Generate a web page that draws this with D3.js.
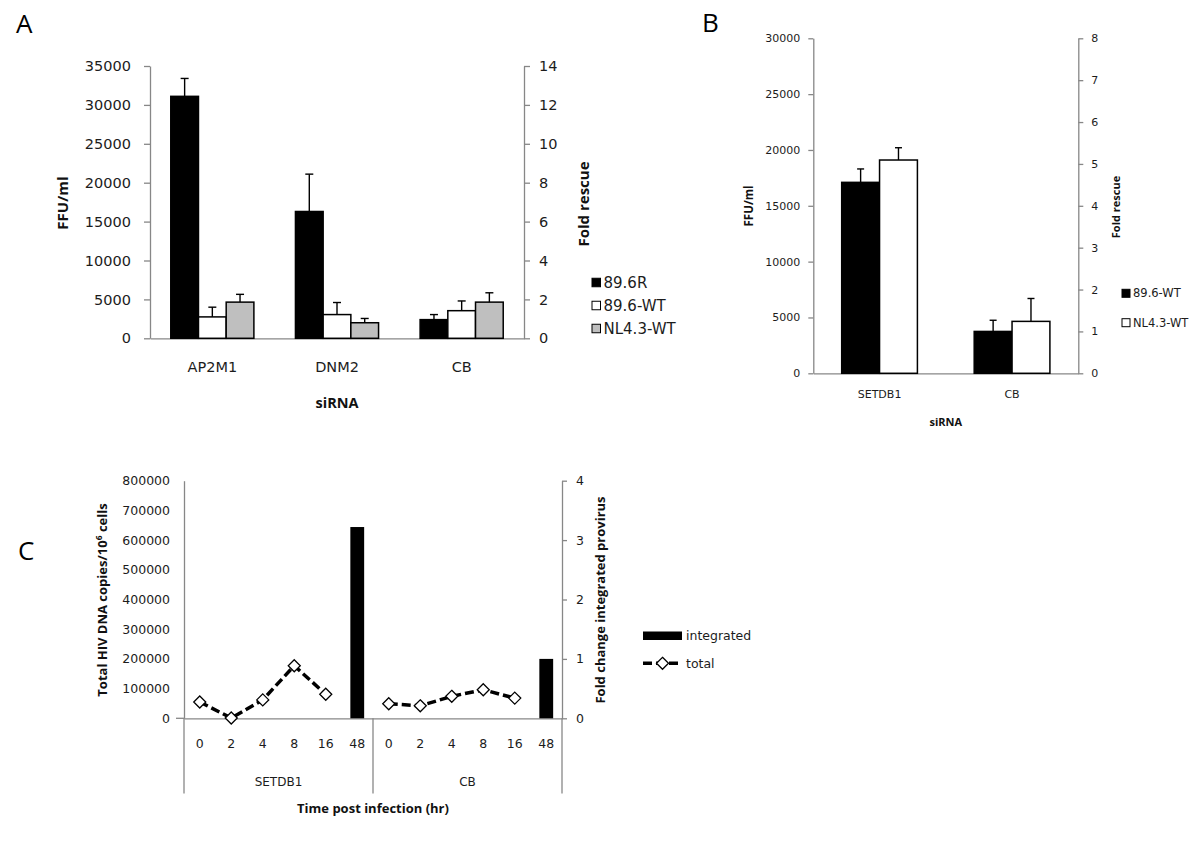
<!DOCTYPE html>
<html><head><meta charset="utf-8">
<script src="https://cdn.jsdelivr.net/npm/d3@7"></script>
<style>
body{margin:0;background:#fff;}
svg{display:block;background:#fff;}
</style></head><body>
<svg id="fig" width="1200" height="843"></svg>
<script>
// ---------- Panel A data ----------
const catsA = ["AP2M1", "DNM2", "CB"];
const seriesNamesA = ["89.6R", "89.6-WT", "NL4.3-WT"];
const valsA_896R   = [31100, 16300, 2400];
const errsA_896R   = [2300, 4800, 650];
const valsA_896WT  = [2750, 3050, 3550];
const errsA_896WT  = [1250, 1550, 1250];
const valsA_NL43WT = [4650, 2000, 4650];
const errsA_NL43WT = [1000, 550, 1200];
const leftTicksA  = [0, 5000, 10000, 15000, 20000, 25000, 30000, 35000];
const rightTicksA = [0, 2, 4, 6, 8, 10, 12, 14];

// ---------- Panel B data ----------
const catsB = ["SETDB1", "CB"];
const seriesNamesB = ["89.6-WT", "NL4.3-WT"];
const valsB_896WT  = [17100, 3750];
const errsB_896WT  = [1200, 1000];
const valsB_NL43WT = [19100, 4650];
const errsB_NL43WT = [1100, 2050];
const leftTicksB  = [0, 5000, 10000, 15000, 20000, 25000, 30000];
const rightTicksB = [0, 1, 2, 3, 4, 5, 6, 7, 8];

// ---------- Panel C data ----------
const groupsC = ["SETDB1", "CB"];
const timeLabelsC = ["0", "2", "4", "8", "16", "48"];
const totalSETDB1 = [55000, 1000, 62000, 177000, 81000, null];
const totalCB     = [49000, 42000, 74000, 96000, 68000, null];
const integratedSETDB1 = [null, null, null, null, null, 3.22];
const integratedCB     = [null, null, null, null, null, 1.0];
const leftTicksC  = [0, 100000, 200000, 300000, 400000, 500000, 600000, 700000, 800000];
const rightTicksC = [0, 1, 2, 3, 4];

// ---------- drawing ----------
const svg = d3.select("#fig");
const AX = "#878787", TXT = "#1c1c1c";
const TICKF = "DejaVu Sans", TITLEF = "Open Sans";

function styleAxis(g, fs) {
  g.attr("font-family", TICKF).attr("font-size", fs);
  g.select(".domain").attr("stroke", AX).attr("stroke-width", 1.3);
  g.selectAll(".tick line").attr("stroke", AX).attr("stroke-width", 1.3);
  g.selectAll(".tick text").attr("fill", TXT);
}
function hTitle(x, y, txt, fs, weight) {
  return svg.append("text").attr("x", x).attr("y", y).attr("text-anchor", "middle")
    .attr("dy", "0.35em").attr("font-family", TITLEF).attr("font-weight", weight || 700)
    .attr("font-size", fs).attr("fill", "#111").text(txt);
}
function vTitle(x, y, txt, fs) {
  return svg.append("text").attr("transform", `translate(${x},${y}) rotate(-90)`)
    .attr("text-anchor", "middle").attr("dy", "0.35em").attr("font-family", TITLEF)
    .attr("font-weight", 700).attr("font-size", fs).attr("fill", "#111").text(txt);
}
function letter(x, y, t) {
  svg.append("text").attr("x", x).attr("y", y).attr("font-family", TITLEF)
    .attr("font-size", 26).attr("fill", "#000").text(t);
}

function barPanel(c) {
  const g = svg.append("g");
  const x = d3.scaleBand().domain(c.cats).range([c.x0, c.x1]).padding(0);
  const n = c.series.length, bw = x.bandwidth(), barW = bw / (n + c.gap);
  const xs = d3.scaleBand().domain(c.series.map(s => s.name))
    .range([c.gap / 2 * barW, bw - c.gap / 2 * barW]).padding(0);
  const y = d3.scaleLinear().domain([0, c.leftMax]).range([c.yB, c.yT]);
  const y2 = d3.scaleLinear().domain([0, c.rightMax]).range([c.yB, c.yT]);

  const la = g.append("g").attr("transform", `translate(${c.x0},0)`)
    .call(d3.axisLeft(y).tickValues(c.leftTicks).tickSize(c.tick).tickSizeOuter(0)
      .tickPadding(c.lpad).tickFormat(d3.format("d")));
  styleAxis(la, c.fs);
  const ra = g.append("g").attr("transform", `translate(${c.x1},0)`)
    .call(d3.axisRight(y2).tickValues(c.rightTicks).tickSize(c.tick).tickSizeOuter(0)
      .tickPadding(c.rpad).tickFormat(d3.format("d")));
  styleAxis(ra, c.fs);
  const ba = g.append("g").attr("transform", `translate(0,${c.yB})`)
    .call(d3.axisBottom(x).tickSize(0).tickSizeOuter(0).tickPadding(c.bpad));
  styleAxis(ba, c.fs);

  c.series.forEach(s => {
    const data = c.cats.map((k, i) => ({ k, v: s.values[i], e: s.errs[i] }));
    const sg = g.append("g");
    sg.selectAll("rect").data(data).join("rect")
      .attr("x", d => x(d.k) + xs(s.name)).attr("width", xs.bandwidth())
      .attr("y", d => y(d.v)).attr("height", d => y(0) - y(d.v))
      .attr("fill", s.fill).attr("stroke", "#000").attr("stroke-width", 1.5);
    const cx = d => x(d.k) + xs(s.name) + xs.bandwidth() / 2;
    sg.selectAll("line.eb").data(data).join("line").attr("class", "eb")
      .attr("x1", cx).attr("x2", cx).attr("y1", d => y(d.v)).attr("y2", d => y(d.v + d.e))
      .attr("stroke", "#000").attr("stroke-width", 1.4);
    sg.selectAll("line.cap").data(data).join("line").attr("class", "cap")
      .attr("x1", d => cx(d) - c.cap).attr("x2", d => cx(d) + c.cap)
      .attr("y1", d => y(d.v + d.e)).attr("y2", d => y(d.v + d.e))
      .attr("stroke", "#000").attr("stroke-width", 1.4);
  });

  c.series.forEach((s, i) => {
    const ly = c.legY + i * c.legDy;
    g.append("rect").attr("x", c.legX).attr("y", ly - c.legS / 2).attr("width", c.legS).attr("height", c.legS)
      .attr("fill", s.fill).attr("stroke", "#000").attr("stroke-width", 1);
    g.append("text").attr("x", c.legX + c.legS + c.legGap).attr("y", ly).attr("dy", "0.35em")
      .attr("font-family", TICKF).attr("font-size", c.legFs).attr("fill", TXT).text(s.name);
  });
}

// Panel A
barPanel({
  cats: catsA, gap: 1.5,
  series: [
    { name: seriesNamesA[0], values: valsA_896R, errs: errsA_896R, fill: "#000000" },
    { name: seriesNamesA[1], values: valsA_896WT, errs: errsA_896WT, fill: "#ffffff" },
    { name: seriesNamesA[2], values: valsA_NL43WT, errs: errsA_NL43WT, fill: "#bfbfbf" }
  ],
  x0: 150, x1: 524, yB: 338.3, yT: 66, leftMax: 35000, rightMax: 14,
  leftTicks: leftTicksA, rightTicks: rightTicksA,
  tick: 6, lpad: 13, rpad: 9, bpad: 23, fs: 14.5, cap: 4,
  legX: 592, legY: 282.5, legDy: 23, legS: 8.5, legGap: 3, legFs: 15
});
letter(16, 33, "A");
vTitle(63, 203, "FFU/ml", 15);
vTitle(584, 204, "Fold rescue", 15);
hTitle(337, 403, "siRNA", 14.5);

// Panel B
barPanel({
  cats: catsB, gap: 1.5,
  series: [
    { name: seriesNamesB[0], values: valsB_896WT, errs: errsB_896WT, fill: "#000000" },
    { name: seriesNamesB[1], values: valsB_NL43WT, errs: errsB_NL43WT, fill: "#ffffff" }
  ],
  x0: 813.3, x1: 1078.3, yB: 373.3, yT: 38.3, leftMax: 30000, rightMax: 8,
  leftTicks: leftTicksB, rightTicks: rightTicksB,
  tick: 5, lpad: 8, rpad: 8, bpad: 17, fs: 11, cap: 3.5,
  legX: 1122, legY: 293.3, legDy: 29.4, legS: 8, legGap: 3, legFs: 11.5
});
letter(702, 31.5, "B");
vTitle(748.5, 206, "FFU/ml", 11.5);
vTitle(1116.5, 207, "Fold rescue", 11);
hTitle(945.8, 421.7, "siRNA", 11);

// Panel C
(function () {
  const g = svg.append("g");
  const x0 = 184, x1 = 562, yB = 718.3, yT = 480.7, yLow = 793.5;
  const cats = groupsC.flatMap(gr => timeLabelsC.map(t => gr + "|" + t));
  const x = d3.scaleBand().domain(cats).range([x0, x1]).padding(0);
  const bw = x.bandwidth(), barW = bw / 2.28;
  const y = d3.scaleLinear().domain([0, 800000]).range([yB, yT]);
  const y2 = d3.scaleLinear().domain([0, 4]).range([yB, yT]);
  const totals = totalSETDB1.concat(totalCB).map((v, i) => ({ k: cats[i], v }));
  const integ = integratedSETDB1.concat(integratedCB).map((v, i) => ({ k: cats[i], v }));

  const la = g.append("g").attr("transform", `translate(${x0},0)`)
    .call(d3.axisLeft(y).tickValues(leftTicksC).tickSize(0).tickSizeOuter(0).tickPadding(14).tickFormat(d3.format("d")));
  styleAxis(la, 12.5);
  const ra = g.append("g").attr("transform", `translate(${x1},0)`)
    .call(d3.axisRight(y2).tickValues(rightTicksC).tickSize(5).tickSizeOuter(0).tickPadding(9).tickFormat(d3.format("d")));
  styleAxis(ra, 12.5);
  const ba = g.append("g").attr("transform", `translate(0,${yB})`)
    .call(d3.axisBottom(x).tickSize(0).tickSizeOuter(0).tickPadding(21).tickFormat(d => d.split("|")[1]));
  styleAxis(ba, 12.5);
  g.append("line").attr("x1", x0 - 8).attr("x2", x0).attr("y1", yB).attr("y2", yB).attr("stroke", AX).attr("stroke-width", 1.3);
  const seps = [x0, x(groupsC[1] + "|" + timeLabelsC[0]), x1];
  g.selectAll("line.sep").data(seps).join("line").attr("class", "sep")
    .attr("x1", d => d).attr("x2", d => d).attr("y1", yB).attr("y2", yLow)
    .attr("stroke", AX).attr("stroke-width", 1.3);
  groupsC.forEach(gr => {
    const a = x(gr + "|" + timeLabelsC[0]), b = x(gr + "|" + timeLabelsC[timeLabelsC.length - 1]) + bw;
    g.append("text").attr("x", (a + b) / 2).attr("y", 782).attr("dy", "0.35em").attr("text-anchor", "middle")
      .attr("font-family", TICKF).attr("font-size", 12).attr("fill", TXT).text(gr);
  });

  g.selectAll("rect.int").data(integ.filter(d => d.v != null)).join("rect").attr("class", "int")
    .attr("x", d => x(d.k) + (bw - barW) / 2).attr("width", barW)
    .attr("y", d => y2(d.v)).attr("height", d => y2(0) - y2(d.v)).attr("fill", "#000");

  const line = d3.line().defined(d => d.v != null)
    .x(d => x(d.k) + bw / 2).y(d => y(d.v));
  g.append("path").datum(totals).attr("d", line).attr("fill", "none")
    .attr("stroke", "#000").attr("stroke-width", 3.5).attr("stroke-dasharray", "9,4");
  const dia = "M0,-6L6,0L0,6L-6,0Z";
  g.selectAll("path.mk").data(totals.filter(d => d.v != null)).join("path").attr("class", "mk")
    .attr("transform", d => `translate(${x(d.k) + bw / 2},${y(d.v)})`).attr("d", dia)
    .attr("fill", "#fff").attr("stroke", "#000").attr("stroke-width", 1.3);

  g.append("rect").attr("x", 643).attr("y", 631.5).attr("width", 39).attr("height", 8.5).attr("fill", "#000");
  g.append("text").attr("x", 686).attr("y", 635.7).attr("dy", "0.35em").attr("font-family", TICKF)
    .attr("font-size", 12.5).attr("fill", TXT).text("integrated");
  g.append("line").attr("x1", 643).attr("x2", 682).attr("y1", 663.3).attr("y2", 663.3)
    .attr("stroke", "#000").attr("stroke-width", 3.5).attr("stroke-dasharray", "9,4");
  g.append("path").attr("transform", "translate(662.5,663.3)").attr("d", dia)
    .attr("fill", "#fff").attr("stroke", "#000").attr("stroke-width", 1.3);
  g.append("text").attr("x", 686).attr("y", 663.3).attr("dy", "0.35em").attr("font-family", TICKF)
    .attr("font-size", 12.5).attr("fill", TXT).text("total");

  const lt = svg.append("text").attr("transform", "translate(102,600) rotate(-90)")
    .attr("text-anchor", "middle").attr("dy", "0.35em").attr("font-family", TITLEF)
    .attr("font-weight", 700).attr("font-size", 13).attr("fill", "#111");
  lt.append("tspan").text("Total HIV DNA copies/10");
  lt.append("tspan").attr("baseline-shift", "super").attr("font-size", 8.5).text("6");
  lt.append("tspan").text(" cells");
  vTitle(600, 600, "Fold change integrated provirus", 13);
  hTitle(373, 808.5, "Time post infection (hr)", 13);
})();
letter(18, 560, "C");
</script>
</body></html>
